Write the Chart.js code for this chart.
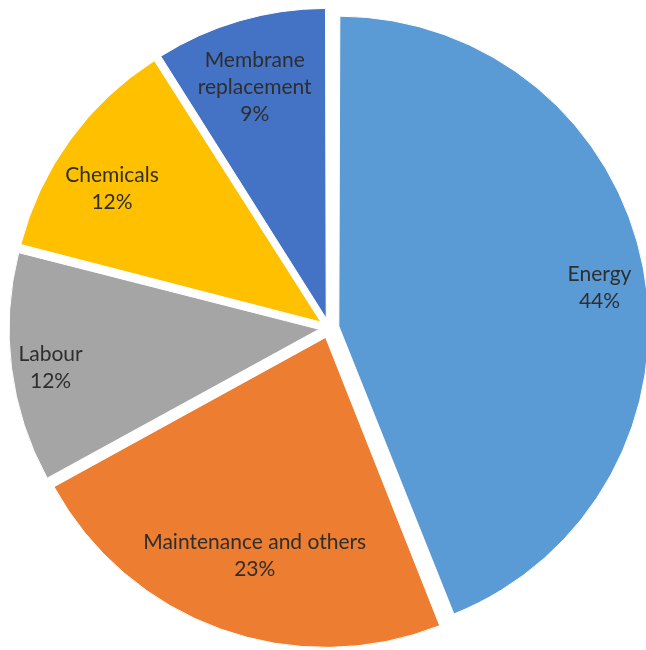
<!DOCTYPE html>
<html>
<head>
<meta charset="utf-8">
<title>Operating cost breakdown</title>
<script src="https://cdn.jsdelivr.net/npm/chart.js@4"></script>
<style>
  html, body { margin: 0; padding: 0; background: #ffffff; overflow: hidden; }
  #wrap { width: 646px; height: 650px; }
</style>
</head>
<body>
<div id="wrap"><canvas id="pie" width="646" height="650"></canvas></div>
<script>
// Cost categories and their share of the total (%)
const categories = ['Energy', 'Maintenance and others', 'Labour', 'Chemicals', 'Membrane replacement'];
const shares = [44, 23, 12, 12, 9];
const colours = ['#5B9BD5', '#ED7D31', '#A5A5A5', '#FFC000', '#4472C4'];

// Layout of the pie and its in-slice labels
const PIE_RADIUS = 310;
const EXPLODE = 40;                               // Chart.js offset (slice moves offset/4 px)
const labelRadius = [0.85, 0.74, 0.875, 0.80, 0.78];   // fraction of radius
const labelTurn = [2.4, -1.8, -1.0, -3.4, -1.0];       // degrees from slice mid-angle
const labelWrap = [0, 0, 0, 0, 140];                    // wrap width in px (0 = no wrap)
const LABEL_FONT = '21px Lato, "Open Sans", sans-serif';
const LINE_HEIGHT = 27;

// Keep every exploded slice at the same outer radius
const equalRadius = {
  id: 'equalRadius',
  afterDatasetUpdate(chart, args) {
    args.meta.data.forEach(arc => {
      const fix = 1 - Math.sin(Math.min(Math.PI, arc.circumference || 0));
      arc.outerRadius = PIE_RADIUS - (EXPLODE / 4) * fix;
    });
  }
};

function wrapText(ctx, text, width) {
  if (!width || ctx.measureText(text).width <= width) return [text];
  const words = text.split(' ');
  const lines = [];
  let cur = '';
  words.forEach(w => {
    const test = cur ? cur + ' ' + w : w;
    if (cur && ctx.measureText(test).width > width) { lines.push(cur); cur = w; }
    else cur = test;
  });
  if (cur) lines.push(cur);
  return lines;
}

// Category name and percentage written inside each slice
const sliceLabels = {
  id: 'sliceLabels',
  afterDatasetsDraw(chart) {
    const ctx = chart.ctx;
    const meta = chart.getDatasetMeta(0);
    const data = chart.data.datasets[0].data;
    const total = data.reduce((a, b) => a + b, 0);
    ctx.save();
    ctx.font = LABEL_FONT;
    ctx.fillStyle = '#2e2e2e';
    ctx.textAlign = 'center';
    ctx.textBaseline = 'alphabetic';
    meta.data.forEach((arc, i) => {
      const mid = (arc.startAngle + arc.endAngle) / 2;
      const shift = EXPLODE / 4;
      const ax = arc.x + Math.cos(mid) * shift;
      const ay = arc.y + Math.sin(mid) * shift;
      const ang = mid + labelTurn[i] * Math.PI / 180;
      const dist = labelRadius[i] * PIE_RADIUS;
      const cx = ax + Math.cos(ang) * dist;
      const cy = ay + Math.sin(ang) * dist;
      const lines = wrapText(ctx, chart.data.labels[i], labelWrap[i]);
      lines.push(Math.round(data[i] / total * 100) + '%');
      const first = cy - (lines.length - 1) * LINE_HEIGHT / 2 + 7;
      lines.forEach((ln, k) => ctx.fillText(ln, cx, first + k * LINE_HEIGHT));
    });
    ctx.restore();
  }
};

new Chart(document.getElementById('pie'), {
  type: 'pie',
  data: {
    labels: categories,
    datasets: [{
      data: shares,
      backgroundColor: colours,
      borderColor: '#ffffff',
      borderWidth: 1,
      offset: EXPLODE,
      hoverOffset: 0
    }]
  },
  options: {
    responsive: false,
    animation: false,
    radius: PIE_RADIUS,
    layout: { padding: { left: 12, top: 6, right: 0, bottom: 0 } },
    plugins: {
      legend: { display: false },
      tooltip: { enabled: false }
    },
    events: []
  },
  plugins: [equalRadius, sliceLabels]
});
</script>
</body>
</html>
